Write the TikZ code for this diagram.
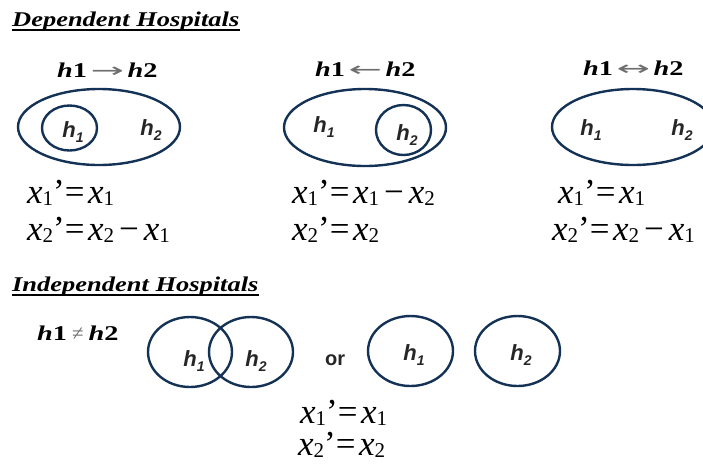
\documentclass[tikz,border=0pt]{standalone}
\usepackage{fontspec}
\usepackage{graphicx}
\setmainfont{Liberation Serif}
\newfontfamily\ttlfont{Liberation Serif}[FakeStretch=1.26]
\newfontfamily\hdrfont{Liberation Serif}[FakeStretch=1.35]
\newfontfamily\hfont{Liberation Sans}
\newfontfamily\symfont{DejaVu Sans}
\usetikzlibrary{shapes.geometric}
\definecolor{navy}{RGB}{20,50,85}
\definecolor{arrowgray}{RGB}{110,110,110}
\definecolor{labelgray}{RGB}{38,38,38}
\newcommand{\eqsub}[1]{\raisebox{-2.5pt}{\fontsize{21}{21}\selectfont #1}}
\newcommand{\hsub}[1]{\raisebox{-5pt}{\fontsize{14}{14}\selectfont #1}}
\newcommand{\hlab}[1]{{\hfont\bfseries\itshape h\hsub{#1}}}
\newcommand{\ex}[1]{\textit{x}\eqsub{#1}}
\newcommand{\eqs}{\hspace{3.5pt}}
\newcommand{\mns}{\hspace{5pt}−\hspace{5pt}}
\newcommand{\harr}[1]{{\color{arrowgray}\symfont\fontsize{20}{20}\selectfont\scalebox{2}[1]{#1}}}
\newcommand{\hdr}[1]{{\hdrfont\bfseries\itshape h}{\hdrfont\bfseries 1}#1{\hdrfont\bfseries\itshape h}{\hdrfont\bfseries 2}}
\tikzset{
  ttl/.style={anchor=base west, inner sep=0pt, font=\ttlfont\bfseries\itshape\fontsize{21}{21}\selectfont},
  hdrtxt/.style={anchor=base west, inner sep=0pt, font=\fontsize{21}{21}\selectfont},
  eqtxt/.style={anchor=base west, inner sep=0pt, font=\fontsize{35}{35}\selectfont},
  hl/.style={anchor=base, inner sep=0pt, text=labelgray, font=\fontsize{22}{22}\selectfont},
  orb/.style={ellipse, draw=navy, line width=2.4pt, inner sep=0pt},
  uline/.style={line width=1.4pt}
}
\begin{document}
\begin{tikzpicture}[x=1pt, y=-1pt]
\useasboundingbox (0,0) rectangle (703,464);
% titles
\node[ttl] (t1) at (12,26) {Dependent Hospitals};
\draw[uline] ([yshift=-4pt]t1.base west) -- ([yshift=-4pt]t1.base east);
\node[ttl] (t2) at (12,291) {Independent Hospitals};
\draw[uline] ([yshift=-4pt]t2.base west) -- ([yshift=-4pt]t2.base east);
% headers
\node[hdrtxt] (r1) at (57,77) {\hdr{\,\harr{→}\,}};
\node[hdrtxt] (r2) at (315,76) {\hdr{\,\harr{←}\,}};
\node[hdrtxt] (r3) at (583,75) {\hdr{\,\harr{↔}\,}};
\node[hdrtxt] (r4) at (37,340) {\hdr{\hspace{5pt}{\color{arrowgray}≠}\hspace{5pt}}};
% panel 1
\node[orb, minimum width=162pt, minimum height=76pt] (e1) at (99,127) {};
\node[orb, minimum width=55pt, minimum height=45pt] (c1) at (69.5,128) {};
\node[hl] (p1a) at (73,137) {\hlab{1}};
\node[hl] (p1b) at (151,135) {\hlab{2}};
\node[eqtxt] (q1a) at (27,203) {\ex{1}’=\eqs\ex{1}};
\node[eqtxt] (q1b) at (27,240) {\ex{2}’=\eqs\ex{2}\mns\ex{1}};
% panel 2
\node[orb, minimum width=162pt, minimum height=77pt] (e2) at (365,127.5) {};
\node[orb, minimum width=55pt, minimum height=50pt] (c2) at (403.5,130) {};
\node[hl] (p2a) at (324,132) {\hlab{1}};
\node[hl] (p2b) at (407,140) {\hlab{2}};
\node[eqtxt] (q2a) at (292,203) {\ex{1}’=\eqs\ex{1}\mns\ex{2}};
\node[eqtxt] (q2b) at (292,240) {\ex{2}’=\eqs\ex{2}};
% panel 3
\node[orb, minimum width=162pt, minimum height=76pt] (e3) at (633,127) {};
\node[hl] (p3a) at (591,135) {\hlab{1}};
\node[hl] (p3b) at (682,135) {\hlab{2}};
\node[eqtxt] (q3a) at (558,203) {\ex{1}’=\eqs\ex{1}};
\node[eqtxt] (q3b) at (552,240) {\ex{2}’=\eqs\ex{2}\mns\ex{1}};
% independent
\node[orb, minimum width=84pt, minimum height=70pt] (v1) at (190,352) {};
\node[orb, minimum width=84pt, minimum height=70pt] (v2) at (251,352) {};
\node[hl] (pv1) at (194,366) {\hlab{1}};
\node[hl] (pv2) at (256,366) {\hlab{2}};
\node[anchor=base west, inner sep=0pt, text=labelgray, font=\hfont\bfseries\fontsize{20}{20}\selectfont] (or) at (325,365) {or};
\node[orb, minimum width=85pt, minimum height=70pt] (s1) at (410.5,351) {};
\node[orb, minimum width=85pt, minimum height=70pt] (s2) at (517.5,351) {};
\node[hl] (ps1) at (414,360) {\hlab{1}};
\node[hl] (ps2) at (521,360) {\hlab{2}};
\node[eqtxt] (q4a) at (300,423) {\ex{1}’=\eqs\ex{1}};
\node[eqtxt] (q4b) at (298,455) {\ex{2}’=\eqs\ex{2}};
\end{tikzpicture}
\end{document}
